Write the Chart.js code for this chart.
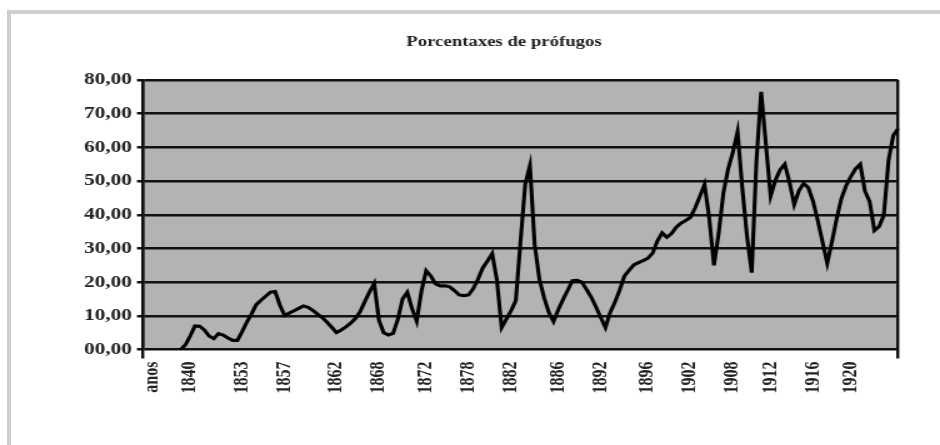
<!DOCTYPE html>
<html>
<head>
<meta charset="utf-8">
<script src="https://cdn.jsdelivr.net/npm/chart.js@4.4.1/dist/chart.umd.min.js"></script>
<style>
  html, body { margin: 0; padding: 0; background: #fff; }
  body { width: 940px; height: 445px; overflow: hidden; position: relative; }
  /* marco gris do documento escaneado */
  .marco { position: absolute; left: 7px; top: 10px; right: 0; bottom: 0;
           border-top: 4px solid #cfcfcf; border-left: 4px solid #cfcfcf; }
  /* a imaxe orixinal está estirada en horizontal */
  .caixa { position: absolute; left: 0; top: 0; width: 752px; height: 445px;
           transform: scaleX(1.25); transform-origin: 0 0; }
</style>
</head>
<body>
<div class="marco"></div>
<div class="caixa"><canvas id="grafico"></canvas></div>
<script>
const porcentaxes = [
  null, null, null, null, null, null, null, null,
  0, 1.4, 4.0, 7.0, 6.9, 5.8, 4.0, 3.2, 4.7, 4.3,
  3.4, 2.7, 2.7, 5.3, 8.1, 10.6, 13.3, 14.6, 15.8, 17.0,
  17.2, 13.2, 10.1, 10.8, 11.5, 12.2, 12.9, 12.5, 11.6, 10.5,
  9.5, 8.1, 6.6, 5.0, 5.8, 6.7, 7.8, 9.2, 11.2, 14.2,
  17.1, 19.6, 8.7, 5.0, 4.3, 4.8, 8.9, 15.0, 17.0, 12.2,
  8.4, 17.3, 23.4, 21.8, 19.5, 18.9, 18.9, 18.6, 17.5, 16.2,
  16.0, 16.2, 18.1, 20.9, 24.2, 26.3, 28.5, 20.6, 6.5, 9.0,
  11.5, 14.5, 32.0, 49.1, 54.6, 31.2, 20.9, 15.4, 11.0, 8.3,
  11.8, 14.8, 17.6, 20.4, 20.5, 20.0, 17.8, 15.5, 12.6, 9.5,
  6.5, 11.0, 14.0, 17.6, 21.8, 23.5, 25.1, 25.8, 26.4, 27.1,
  28.6, 32.2, 34.6, 33.3, 34.4, 36.3, 37.5, 38.3, 39.2, 42.0,
  45.4, 49.0, 39.0, 25.0, 34.5, 46.5, 53.6, 58.5, 64.7, 48.0,
  33.6, 22.8, 56.0, 76.5, 61.0, 45.5, 50.2, 53.3, 55.0, 49.7,
  43.0, 47.1, 49.3, 48.0, 44.0, 38.3, 31.9, 25.6, 32.0, 38.8,
  44.8, 48.6, 51.3, 53.6, 55.0, 47.0, 43.9, 35.3, 36.5, 39.9,
  56.2, 63.5, 65.5
];

// Etiquetas do eixo X e a categoría onde aparece cada unha
const etiquetas = ['anos', '1840', '1853', '1857', '1862', '1868', '1872', '1878', '1882',
                   '1886', '1892', '1896', '1902', '1908', '1912', '1916', '1920'];
const indicesEtiquetas = [2, 10, 21, 30, 41, 50, 60, 69, 78, 88, 97, 107, 116, 125, 133, 142, 150];

const categorias = porcentaxes.map((v, i) => {
    const k = indicesEtiquetas.indexOf(i);
    return k >= 0 ? etiquetas[k] : '';
});

const fonte = "'Liberation Serif', 'Times New Roman', serif";

// Fondo gris da área do gráfico
const fondoGrafico = {
    id: 'fondoGrafico',
    beforeDraw(chart) {
        const { ctx, chartArea: a } = chart;
        ctx.save();
        ctx.fillStyle = '#b3b3b3';
        ctx.fillRect(a.left, a.top, a.right - a.left, a.bottom - a.top);
        ctx.restore();
    }
};

// O título non está centrado no lenzo: desprázase un pouco á esquerda
const moverTitulo = {
    id: 'moverTitulo',
    afterLayout(chart) {
        const t = chart.titleBlock;
        if (!t) return;
        t.left = 88;
        t.right = chart.chartArea.right;
        t.width = t.right - t.left;
    }
};

new Chart(document.getElementById('grafico'), {
    type: 'line',
    data: {
        labels: categorias,
        datasets: [{
            data: porcentaxes,
            borderColor: '#000',
            borderWidth: 3.1,
            pointRadius: 0,
            tension: 0,
            fill: false
        }]
    },
    options: {
        responsive: true,
        maintainAspectRatio: false,
        animation: false,
        layout: { padding: { left: 0, right: 33.6, top: 0, bottom: 0 } },
        plugins: {
            legend: { display: false },
            tooltip: { enabled: false },
            title: {
                display: true,
                text: 'Porcentaxes de prófugos',
                color: '#222',
                font: { family: fonte, size: 15, weight: 'bold', lineHeight: 1.2 },
                padding: { top: 33, bottom: 29 }
            }
        },
        scales: {
            x: {
                grid: {
                    color: ctx => (ctx.index === 0 || ctx.index === categorias.length - 1) ? '#111' : 'rgba(0,0,0,0)',
                    lineWidth: 2.4,
                    tickLength: 9
                },
                border: { display: false },
                ticks: {
                    autoSkip: false,
                    minRotation: 90,
                    maxRotation: 90,
                    padding: 3,
                    color: '#222',
                    font: { family: fonte, size: 16, weight: 'bold' }
                },
                afterFit: s => { s.height = 95.5; }
            },
            y: {
                min: 0,
                max: 80,
                afterFit: s => { s.width = 114.4; },
                grid: { color: '#111', lineWidth: 2.5, tickLength: 4.8 },
                border: { display: true, color: '#111', width: 2.4 },
                ticks: {
                    stepSize: 10,
                    padding: 4,
                    color: '#222',
                    font: { family: fonte, size: 17, weight: 'bold' },
                    callback: v => (v < 10 ? '0' : '') + v + ',00'
                }
            }
        }
    },
    plugins: [fondoGrafico, moverTitulo]
});
</script>
</body>
</html>
